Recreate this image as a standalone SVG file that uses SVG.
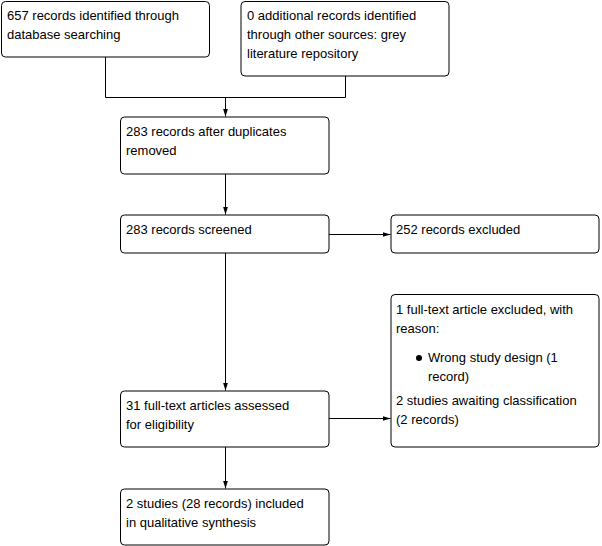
<svg xmlns="http://www.w3.org/2000/svg" width="602" height="546" viewBox="0 0 602 546">
<style>
.box{fill:#fff;stroke:#000;stroke-width:1}
text{font-family:"Liberation Sans",Arial,sans-serif;font-size:13px;fill:#000}
.ln{fill:none;stroke:#000;stroke-width:1}
</style>
<defs>
<marker id="ah" viewBox="0 0 8 8" refX="8" refY="4" markerWidth="8" markerHeight="8" markerUnits="userSpaceOnUse" orient="auto">
<path d="M0,1.5 L8,4 L0,6.5 Z" fill="#000"/>
</marker>
</defs>
<rect width="602" height="546" fill="#fff"/>
<g id="connectors">
<path class="ln" d="M105.5,57 V97.5 H345.5 V76"/>
<path class="ln" d="M225.5,97.5 V116.5" marker-end="url(#ah)"/>
<path class="ln" d="M225.5,174 V214.5" marker-end="url(#ah)"/>
<path class="ln" d="M329,234.5 H390.5" marker-end="url(#ah)"/>
<path class="ln" d="M225.5,253 V390.5" marker-end="url(#ah)"/>
<path class="ln" d="M329,418.5 H390.5" marker-end="url(#ah)"/>
<path class="ln" d="M225.5,447 V488.5" marker-end="url(#ah)"/>
</g>
<g id="n1">
<rect class="box" x="1.5" y="1.5" width="208" height="55.5" rx="4"/>
<text x="7" y="20">657 records identified through</text>
<text x="7" y="39">database searching</text>
</g>
<g id="n2">
<rect class="box" x="241" y="1.5" width="208" height="74.5" rx="4"/>
<text x="247" y="20">0 additional records identified</text>
<text x="247" y="39">through other sources: grey</text>
<text x="247" y="58">literature repository</text>
</g>
<g id="n3">
<rect class="box" x="120.5" y="117" width="208.5" height="57" rx="4"/>
<text x="126" y="136">283 records after duplicates</text>
<text x="126" y="155">removed</text>
</g>
<g id="n4">
<rect class="box" x="120.5" y="215" width="208.5" height="38" rx="4"/>
<text x="126" y="234">283 records screened</text>
</g>
<g id="n5">
<rect class="box" x="391" y="215" width="208" height="38" rx="4"/>
<text x="396" y="234">252 records excluded</text>
</g>
<g id="n6">
<rect class="box" x="391" y="294.5" width="208" height="152.5" rx="4"/>
<text x="396" y="314">1 full-text article excluded, with</text>
<text x="396" y="333">reason:</text>
<circle cx="419" cy="358" r="3" fill="#000"/>
<text x="428" y="362">Wrong study design (1</text>
<text x="428" y="381">record)</text>
<text x="396" y="405">2 studies awaiting classification</text>
<text x="396" y="424">(2 records)</text>
</g>
<g id="n7">
<rect class="box" x="120.5" y="391" width="208.5" height="56" rx="4"/>
<text x="126" y="410">31 full-text articles assessed</text>
<text x="126" y="429">for eligibility</text>
</g>
<g id="n8">
<rect class="box" x="120.5" y="489" width="208.5" height="56" rx="4"/>
<text x="126" y="508">2 studies (28 records) included</text>
<text x="126" y="527">in qualitative synthesis</text>
</g>
</svg>
